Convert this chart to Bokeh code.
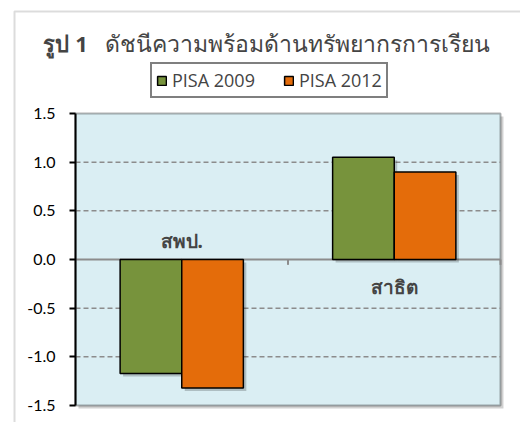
from bokeh.plotting import figure
from bokeh.models import (Range1d, Label, Legend, LegendItem, FixedTicker, BoxAnnotation,
                          ColumnDataSource, CustomJSTickFormatter)
from bokeh.embed import file_html
from bokeh.resources import INLINE

categories = ["สพป.", "สาธิต"]
pisa2009 = [-1.17, 1.05]
pisa2012 = [-1.32, 0.90]
y_ticks = [-1.5, -1.0, -0.5, 0.0, 0.5, 1.0, 1.5]
series_names = ["PISA 2009", "PISA 2012"]
title_bold = "รูป 1"
title_rest = "ดัชนีความพร้อมด้านทรัพยากรการเรียน"

GREEN = "#77933C"
ORANGE = "#E46C0A"
BG = "#DAEEF3"
GRID = "#8c8c8c"

n = len(categories)
centers = [i + 0.5 for i in range(n)]
bw = 0.29
# shadow offsets (about 3px) in data units
dx, dy = 0.014, 0.031
src = ColumnDataSource(dict(
    x1=[c - bw / 2 for c in centers],
    x2=[c + bw / 2 for c in centers],
    v1=pisa2009, v2=pisa2012,
    s1=[c - bw / 2 + dx for c in centers],
    s2=[c + bw / 2 + dx for c in centers],
    t1=[v - dy for v in pisa2009], t2=[v - dy for v in pisa2012],
))

ymin, ymax = y_ticks[0], y_ticks[-1]

# whole canvas is the frame; plot area is data box [0, n] x [ymin, ymax]
p = figure(width=520, height=422, output_backend="svg", toolbar_location=None,
           x_range=Range1d(-0.35294, n + 0.09412), y_range=Range1d(ymin - 0.17466, ymax + 1.16096),
           min_border=0, x_axis_location=None)
p.background_fill_color = "white"
p.border_fill_color = "white"
p.outline_line_color = None
p.xgrid.visible = False
p.ygrid.visible = False

# outer chart border
p.add_layout(BoxAnnotation(left=-0.28706, top=ymax + 1.0479, right=n + 1, bottom=ymin - 1,
                           fill_alpha=0, line_color=GRID, line_width=2, level="underlay"))

# plot area shadow + plot area
p.add_layout(BoxAnnotation(left=dx, right=n + dx, bottom=ymin - dy, top=ymax - dy,
                           fill_color="black", fill_alpha=0.18, line_color=None, level="underlay"))
p.add_layout(BoxAnnotation(left=0, right=n, bottom=ymin, top=ymax, fill_color=BG, fill_alpha=1,
                           line_color="black", line_width=2, level="underlay"))

# gridlines (dashed) inside plot area
grid_vals = [t for t in y_ticks if t not in (0.0, ymin, ymax)]
p.segment(x0=[0] * len(grid_vals), x1=[n] * len(grid_vals), y0=grid_vals, y1=grid_vals,
          line_color=GRID, line_dash="5 3", line_width=1.5)

# zero line and category boundary ticks
p.segment(x0=[0], x1=[n], y0=[0], y1=[0], line_color=GRID, line_width=2)
bounds_x = [i + 1 for i in range(n)]
p.segment(x0=bounds_x, x1=bounds_x, y0=[0] * n, y1=[-0.055] * n, line_color=GRID, line_width=2)

# y axis at x=0
ax = p.yaxis[0]
ax.fixed_location = 0
ax.bounds = (ymin, ymax)
ax.ticker = FixedTicker(ticks=y_ticks)
ax.formatter = CustomJSTickFormatter(code="return tick.toFixed(1);")
ax.major_label_text_font = "Lato"
ax.major_label_text_font_size = "16px"
ax.major_label_text_color = "black"
ax.axis_line_color = "black"
ax.axis_line_width = 2
ax.major_tick_line_color = "black"
ax.major_tick_line_width = 2
ax.major_tick_out = 6
ax.major_tick_in = 0
ax.minor_tick_line_color = None
ax.major_label_standoff = 14

# bar shadows
p.vbar(x="s1", top="t1", bottom=-dy, width=bw, source=src, fill_color="black",
       fill_alpha=0.2, line_color=None)
p.vbar(x="s2", top="t2", bottom=-dy, width=bw, source=src, fill_color="black",
       fill_alpha=0.2, line_color=None)

r1 = p.vbar(x="x1", top="v1", bottom=0, width=bw, source=src,
            fill_color=GREEN, line_color="black", line_width=1.5)
r2 = p.vbar(x="x2", top="v2", bottom=0, width=bw, source=src,
            fill_color=ORANGE, line_color="black", line_width=1.5)

# category labels
label_y = [0.185, -0.28]
for c, name, ly in zip(centers, categories, label_y):
    p.add_layout(Label(x=c, y=ly, text=name, text_font="Noto Sans", text_font_style="bold",
                       text_font_size="19px", text_align="center", text_baseline="middle"))

# title
title_y = ymax + 0.7192
p.add_layout(Label(x=-0.1506, y=title_y, text=title_bold, text_font="Noto Sans",
                   text_font_style="bold", text_font_size="22px",
                   text_align="left", text_baseline="alphabetic"))
p.add_layout(Label(x=0.1365, y=title_y, text=title_rest, text_font="Noto Sans",
                   text_font_size="23px", text_align="left", text_baseline="alphabetic"))

legend = Legend(items=[LegendItem(label=series_names[0], renderers=[r1]),
                       LegendItem(label=series_names[1], renderers=[r2])],
                orientation="horizontal", location=(150, 324),
                border_line_color="black", border_line_width=2,
                label_text_font="Open Sans", label_text_font_size="18px",
                glyph_width=11, glyph_height=11, spacing=28, padding=4, margin=0,
                label_standoff=5, background_fill_alpha=1)
p.add_layout(legend)

open("out.html", "w").write(file_html(p, INLINE))
